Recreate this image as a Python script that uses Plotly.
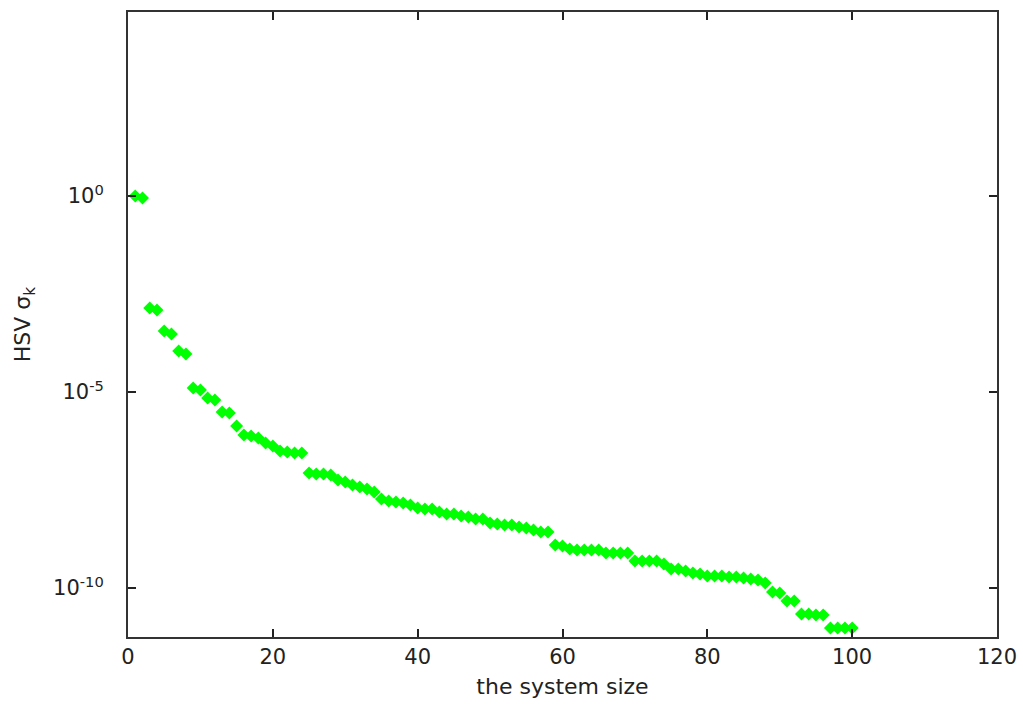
import plotly.graph_objects as go

k_index = list(range(1, 101))
hsv_values = [
    1.0, 0.89, 1.39e-3, 1.24e-3, 3.6e-4, 3.0e-4, 1.11e-4, 9.3e-5, 1.26e-5, 1.12e-5,
    7.0e-6, 6.25e-6, 3.1e-6, 2.9e-6, 1.36e-6, 8.0e-7, 7.55e-7, 6.7e-7, 5.0e-7, 4.2e-7,
    3.13e-7, 2.94e-7, 2.78e-7, 2.78e-7, 8.6e-8, 8.1e-8, 8.1e-8, 7.6e-8, 5.7e-8, 5.06e-8,
    4.25e-8, 3.78e-8, 3.36e-8, 2.81e-8, 1.86e-8, 1.66e-8, 1.56e-8, 1.47e-8, 1.31e-8, 1.10e-8,
    1.035e-8, 1.035e-8, 8.7e-9, 7.7e-9, 7.7e-9, 6.9e-9, 6.5e-9, 5.75e-9, 5.75e-9, 4.55e-9,
    4.3e-9, 4.05e-9, 4.05e-9, 3.6e-9, 3.4e-9, 3.0e-9, 2.69e-9, 2.69e-9, 1.25e-9, 1.18e-9,
    9.9e-10, 9.3e-10, 9.3e-10, 9.3e-10, 9.3e-10, 7.8e-10, 7.8e-10, 7.8e-10, 7.8e-10, 4.9e-10,
    4.9e-10, 4.9e-10, 4.9e-10, 4.1e-10, 3.05e-10, 3.05e-10, 2.7e-10, 2.4e-10, 2.28e-10, 2.02e-10,
    2.02e-10, 2.02e-10, 1.91e-10, 1.91e-10, 1.8e-10, 1.7e-10, 1.6e-10, 1.34e-10, 7.9e-11, 7.45e-11,
    4.66e-11, 4.66e-11, 2.17e-11, 2.17e-11, 2.05e-11, 2.05e-11, 9.5e-12, 9.5e-12, 9.5e-12, 9.5e-12,
]

x_ticks = [0, 20, 40, 60, 80, 100, 120]
y_tickvals = [1, 1e-5, 1e-10]
y_ticktext = ["10<sup>0</sup>", "10<sup>-5</sup>", "10<sup>-10</sup>"]

FONT = "DejaVu Sans, Arial, sans-serif"
TXT = "#222222"

fig = go.Figure()
fig.add_trace(go.Scatter(
    x=k_index, y=hsv_values, mode="markers",
    marker=dict(symbol="diamond", size=10, color="#00ff00", line=dict(width=0)),
    showlegend=False,
))

axis_common = dict(
    showline=True, linecolor="#333333", linewidth=2, mirror="ticks",
    ticks="inside", ticklen=8, tickwidth=2, tickcolor="#222222",
    showgrid=False, zeroline=False, automargin=False,
    tickfont=dict(family=FONT, size=21, color=TXT),
)

fig.update_xaxes(range=[0, 120], tickvals=x_ticks,
                 title=dict(text="the system size", standoff=10,
                            font=dict(family=FONT, size=22, color=TXT)),
                 **axis_common)
fig.update_yaxes(type="log", range=[-11.25, 4.694], tickvals=y_tickvals, ticktext=y_ticktext,
                 ticklabelstandoff=18,
                 title=dict(text="HSV σ<sub>k</sub>", standoff=16,
                            font=dict(family=FONT, size=22, color=TXT)),
                 **axis_common)

fig.update_layout(
    width=1023, height=709,
    margin=dict(l=128, r=26, t=12, b=72, autoexpand=False),
    plot_bgcolor="white", paper_bgcolor="white",
)

fig.write_html(
    "out.html",
    config={"displayModeBar": False},
    post_script="document.body.style.margin='0';document.body.style.overflow='hidden';",
)
